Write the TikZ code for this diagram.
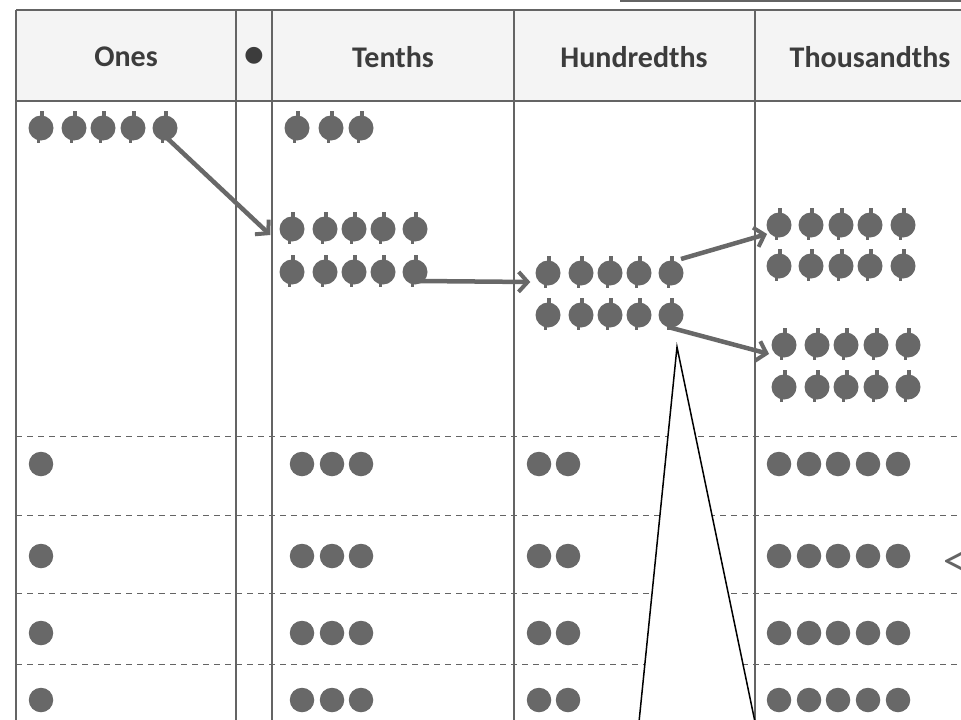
\documentclass[tikz,border=0pt]{standalone}
\usepackage{fontspec}
\setmainfont{Carlito}
\newfontfamily\dejavu{DejaVu Sans}
\usetikzlibrary{arrows.meta}
\definecolor{dotgray}{RGB}{104,104,104}
\definecolor{linegray}{RGB}{100,100,100}
\definecolor{headfill}{RGB}{244,244,244}
\definecolor{textgray}{RGB}{60,60,60}
\begin{document}
\begin{tikzpicture}[x=1pt,y=-1pt,
  dot/.style={circle,fill=dotgray,minimum size=24.5pt,inner sep=0pt},
  pom/.style={circle,fill=dotgray,minimum size=25pt,inner sep=0pt},
  head/.style={font=\bfseries\fontsize{30}{32}\selectfont,text=textgray,inner sep=0pt},
  grid/.style={draw=linegray,line width=1.3pt},
  dashrow/.style={draw=linegray,line width=1pt,dash pattern=on 6pt off 5pt},
  arr/.style={draw=dotgray,line width=4.5pt,-{Straight Barb[length=9pt,width=20pt,line width=4pt]}},
  tri/.style={draw=black,line width=1.5pt,fill=white}]
\useasboundingbox (0,0) rectangle (961,720);
\clip (0,0) rectangle (961,720);
% header
\fill[headfill] (16,10) rectangle (961,101);
\draw[grid,line width=1.6pt] (620,0.8) -- (961,0.8);
\draw[grid,line width=1.5pt] (16,10) -- (961,10);
\draw[grid] (16,101) -- (961,101);
% dashed row lines
\foreach \yy in {436,515,593,664} \draw[dashrow] (16,\yy) -- (961,\yy);
% vertical lines
\foreach \xx in {16,236,272,514,755} \draw[grid] (\xx,10) -- (\xx,720);
% header texts
\node[head] (hOnes) at (126,57) {Ones};
\node[inner sep=0pt,text=textgray,font=\dejavu\fontsize{22}{24}\selectfont] (hPoint) at (254,56) {●};
\node[head] (hTenths) at (393,57) {Tenths};
\node[head] (hHund) at (634,57) {Hundredths};
\node[head] (hThou) at (870,57) {Thousandths};
% upper pomegranate counters
\foreach \xx [count=\i] in {41,74,103,133,165} \node[pom] (o\i) at (\xx,128) {};
\foreach \xx [count=\i] in {297,331,361} \node[pom] (ta\i) at (\xx,128) {};
\foreach \xx [count=\i] in {292,325,354,383,415} {
  \node[pom] (tb\i) at (\xx,229) {};
  \node[pom] (tc\i) at (\xx,272) {};}
\foreach \xx [count=\i] in {548,581,610,639,671} {
  \node[pom] (ha\i) at (\xx,273) {};
  \node[pom] (hb\i) at (\xx,315) {};}
\foreach \xx [count=\i] in {779,811,841,870,903} {
  \node[pom] (ka\i) at (\xx,225) {};
  \node[pom] (kb\i) at (\xx,266) {};}
\foreach \xx [count=\i] in {784,817,846,876,908} {
  \node[pom] (kc\i) at (\xx,345) {};
  \node[pom] (kd\i) at (\xx,387) {};}
% stems and tails on the counters
\foreach \n in {o1,o2,o3,o4,o5,ta1,ta2,ta3,tb1,tb2,tb3,tb4,tb5,tc1,tc2,tc3,tc4,tc5,
  ha1,ha2,ha3,ha4,ha5,hb1,hb2,hb3,hb4,hb5,ka1,ka2,ka3,ka4,ka5,kb1,kb2,kb3,kb4,kb5,
  kc1,kc2,kc3,kc4,kc5,kd1,kd2,kd3,kd4,kd5} {
  \fill[dotgray] (\n.north) ++(-1.5,1.5) rectangle ++(4,-5.5);
  \fill[dotgray] (\n.south) ++(-4,-1.5) rectangle ++(3,4);
}
% lower plain counters
\foreach \yy [count=\r] in {464,556,633,700} {
  \node[dot] (p\r o1) at (41,\yy) {};
  \foreach \xx [count=\i] in {302,332,361} \node[dot] (p\r t\i) at (\xx,\yy) {};
  \foreach \xx [count=\i] in {539,568} \node[dot] (p\r h\i) at (\xx,\yy) {};
  \foreach \xx [count=\i] in {779,809,838,868,898} \node[dot] (p\r k\i) at (\xx,\yy) {};
}
% arrows
\draw[arr] ([shift={(2,10)}]o5.center) -- ([shift={(-9,6)}]tb1.west);
\draw[arr] ([shift={(5,9)}]tc5.center) -- ([shift={(-5,9)}]ha1.west);
\draw[arr] ([shift={(10,-14)}]ha5.center) -- ([shift={(-3,0)}]ka1.south west);
\draw[arr] ([shift={(-3,12)}]hb5.center) -- ([shift={(-6,0)}]kc1.south west);
% triangle
\coordinate (apex) at (677,347);
\coordinate (bl) at (639,722);
\coordinate (br) at (755,722);
\draw[tri] (bl) -- (apex) -- (br);
% less-than sign at right edge
\node[anchor=west,inner sep=0pt,text=linegray,font=\fontsize{44}{46}\selectfont] (lt) at (943,564) {<};
\end{tikzpicture}
\end{document}
